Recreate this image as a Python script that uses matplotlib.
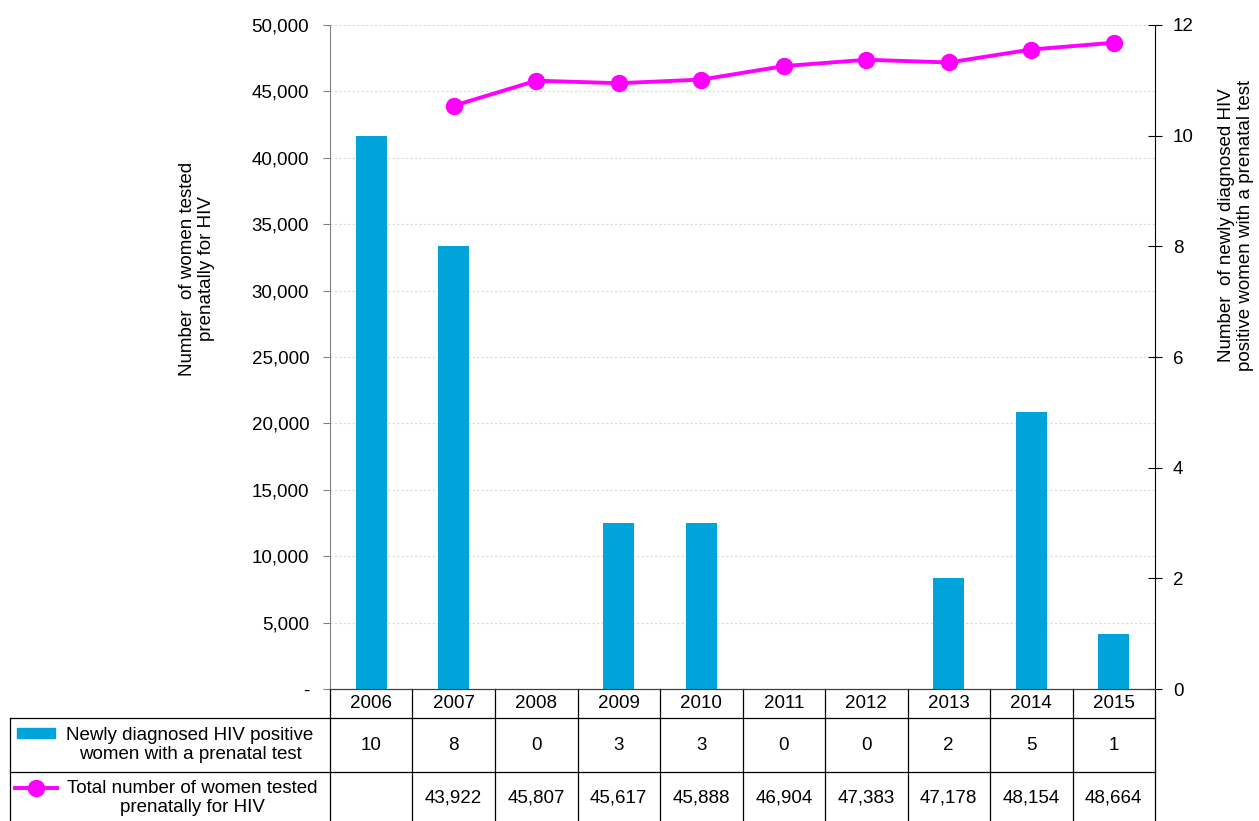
import matplotlib
matplotlib.use('Agg')
import matplotlib.pyplot as plt
from matplotlib.lines import Line2D
from matplotlib.patches import Rectangle
from matplotlib.ticker import FuncFormatter

plt.rcParams['font.family'] = ['Liberation Sans', 'DejaVu Sans']
plt.rcParams['font.size'] = 13.5

years = ['2006', '2007', '2008', '2009', '2010', '2011', '2012', '2013', '2014', '2015']
newly_diagnosed = [10, 8, 0, 3, 3, 0, 0, 2, 5, 1]
tested = [None, 43922, 45807, 45617, 45888, 46904, 47383, 47178, 48154, 48664]

bar_label = 'Newly diagnosed HIV positive\nwomen with a prenatal test'
line_label = 'Total number of women tested\nprenatally for HIV'

bar_color = '#00A3DA'
line_color = '#FF00FF'

W, H = 1259, 821
fig = plt.figure(figsize=(W / 100, H / 100), dpi=100)

# plot area in pixels: left 330, right 1155, top 25, bottom 689
axL = fig.add_axes([330 / W, 1 - 689 / H, 825 / W, 664 / H])
axR = axL.twinx()

x = list(range(len(years)))

# total tested, left axis
xs = [i for i, v in zip(x, tested) if v is not None]
ys = [v for v in tested if v is not None]
axL.plot(xs, ys, color=line_color, lw=2.8, marker='o', ms=11.5, zorder=3)
axL.set_ylim(0, 50000)
axL.set_yticks(range(0, 50001, 5000))
axL.yaxis.set_major_formatter(FuncFormatter(lambda v, p: '-' if v == 0 else f'{int(v):,}'))
axL.grid(axis='y', color='#d9d9d9', ls=(0, (2, 2)), lw=0.8)
axL.set_xlim(-0.5, len(years) - 0.5)
axL.set_xticks([])
axL.tick_params(axis='y', direction='out', length=5, color='#808080', pad=10)

# newly diagnosed, right axis
axR.bar(x, newly_diagnosed, width=0.38, color=bar_color, zorder=2)
axR.set_ylim(0, 12)
axR.set_yticks(range(0, 13, 2))
axR.tick_params(axis='y', direction='inout', length=10, color='black', pad=8)
axR.set_xlim(-0.5, len(years) - 0.5)

for a in (axL, axR):
    a.spines['top'].set_visible(False)
axL.spines['right'].set_visible(False)
axR.spines['left'].set_visible(False)
axL.spines['left'].set_color('#808080')
axR.spines['right'].set_color('black')
axR.spines['bottom'].set_color('#404040')

fig.text(197 / W, 1 - 269 / H, 'Number  of women tested\nprenatally for HIV',
         rotation=90, ha='center', va='center', multialignment='center')
fig.text(1236 / W, 1 - 225 / H, 'Number  of newly diagnosed HIV\npositive women with a prenatal test',
         rotation=90, ha='center', va='center', multialignment='center')

# data table below the plot
def ay(py):
    return (689 - py) / 664

xt = axL.get_xaxis_transform()
for b in [i - 0.5 for i in range(len(years) + 1)]:
    axL.add_line(Line2D([b, b], [0, ay(821)], transform=xt, color='black', lw=0.9, clip_on=False))
for i, yr in enumerate(years):
    axL.text(i, ay(703), yr, transform=xt, ha='center', va='center')
    axL.text(i, ay(745), str(newly_diagnosed[i]), transform=xt, ha='center', va='center')
    if tested[i] is not None:
        axL.text(i, ay(798), f'{tested[i]:,}', transform=xt, ha='center', va='center')

ft = fig.transFigure
for py in (718, 772):
    fig.add_artist(Line2D([10 / W, 1155 / W], [1 - py / H, 1 - py / H], transform=ft, color='black', lw=0.9))
fig.add_artist(Line2D([10 / W, 10 / W], [1 - 718 / H, 0], transform=ft, color='black', lw=0.9))

fig.text(190 / W, 1 - 745 / H, bar_label, ha='center', va='center', multialignment='center')
fig.text(192 / W, 1 - 798 / H, line_label, ha='center', va='center', multialignment='center')
fig.add_artist(Rectangle((17 / W, 1 - 738 / H), 38 / W, 10 / H, transform=ft, color=bar_color))
fig.add_artist(Line2D([15 / W, 36 / W, 57 / W], [1 - 788 / H] * 3, transform=ft, color=line_color,
                      lw=2.8, marker='o', ms=11.5, markevery=[1]))

fig.savefig('out.png', dpi=100)
